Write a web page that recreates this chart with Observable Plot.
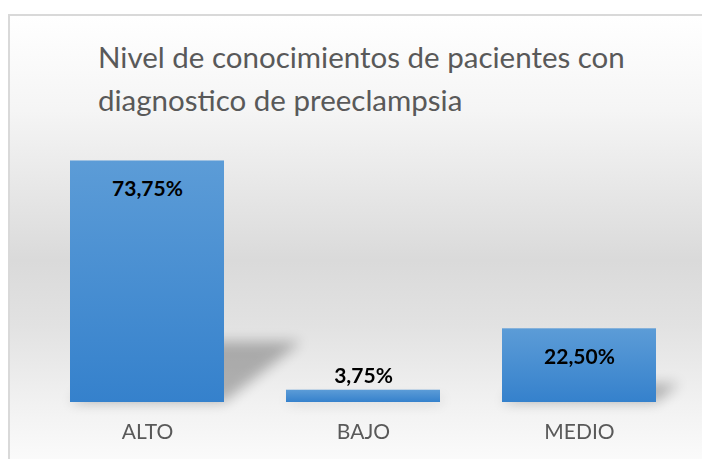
<!DOCTYPE html>
<html><head><meta charset="utf-8">
<script src="https://cdn.jsdelivr.net/npm/d3@7"></script>
<script src="https://cdn.jsdelivr.net/npm/@observablehq/plot@0.6"></script>
<style>
html,body{margin:0;padding:0;background:#fff;}
body{width:702px;height:459px;overflow:hidden;position:relative;font-family:Lato,"Open Sans",sans-serif;}
#frame{position:absolute;left:8px;top:14px;width:720px;height:470px;border-left:2px solid #d9d9d9;border-top:2px solid #d9d9d9;
background:linear-gradient(to bottom,#ffffff 0%,#f5f5f5 20%,#e6e6e6 38%,#dadada 52%,#e2e2e2 66%,#f1f1f1 82%,#fbfbfb 95%,#fdfdfd 100%);}
#title{position:absolute;left:98px;top:35px;font-size:29.5px;line-height:43px;color:#595959;white-space:nowrap;}
#chart{position:absolute;left:0;top:140px;}
</style></head>
<body>
<div id="frame"></div>
<div id="title">Nivel de conocimientos de pacientes con<br>diagnostico de preeclampsia</div>
<div id="chart"></div>
<script>
const categories = ["ALTO", "BAJO", "MEDIO"];
const values = [73.75, 3.75, 22.50];
const valueLabels = ["73,75%", "3,75%", "22,50%"];
const data = categories.map((c, i) => ({cat: c, v: values[i], label: valueLabels[i]}));

const plot = Plot.plot({
  width: 702,
  height: 320,
  marginLeft: 39,
  marginRight: 15,
  marginTop: 0,
  marginBottom: 58,
  style: {background: "transparent", fontFamily: "Lato, 'Open Sans', sans-serif", overflow: "visible"},
  x: {domain: categories, paddingInner: 0.287, paddingOuter: 0.1435, axis: null},
  y: {domain: [0, 80], axis: null},
  marks: [
    Plot.barY(data, {x: "cat", y: "v", fill: "url(#barGrad)"}),
    Plot.axisX({tickSize: 0, tickPadding: 22, fontSize: 21, color: "#595959", label: null}),
    Plot.text(data, {filter: d => d.v >= 10, x: "cat", y: "v", text: "label", dy: 28, fontSize: 21, fontWeight: "bold", fill: "#000"}),
    Plot.text(data, {filter: d => d.v < 10, x: "cat", y: "v", text: "label", dy: -14, fontSize: 21, fontWeight: "bold", fill: "#000"})
  ]
});

const svg = d3.select(plot);
svg.insert("defs", ":first-child").html(`
  <linearGradient id="barGrad" x1="0" y1="0" x2="0" y2="1">
    <stop offset="0%" stop-color="#5c9cd7"/>
    <stop offset="100%" stop-color="#3581cc"/>
  </linearGradient>
  <filter id="shadowBlur" filterUnits="userSpaceOnUse" x="0" y="0" width="702" height="320">
    <feGaussianBlur stdDeviation="6.5"/>
  </filter>`);

// perspective shadows derived from the rendered bars
const barGroup = plot.querySelector("g[aria-label='bar']");
const shadowG = svg.insert("g", () => barGroup).attr("filter", "url(#shadowBlur)").attr("opacity", 0.27);
barGroup.querySelectorAll("rect").forEach(r => {
  const x = +r.getAttribute("x"), y = +r.getAttribute("y");
  const w = +r.getAttribute("width"), h = +r.getAttribute("height");
  const y0 = y + h;
  shadowG.append("rect")
    .attr("x", x).attr("y", y).attr("width", w).attr("height", h)
    .attr("fill", "#000")
    .attr("transform", `translate(0,${y0}) skewX(-52) scale(1,0.25) translate(0,${-y0})`);
});

document.getElementById("chart").appendChild(plot);
</script>
</body></html>
